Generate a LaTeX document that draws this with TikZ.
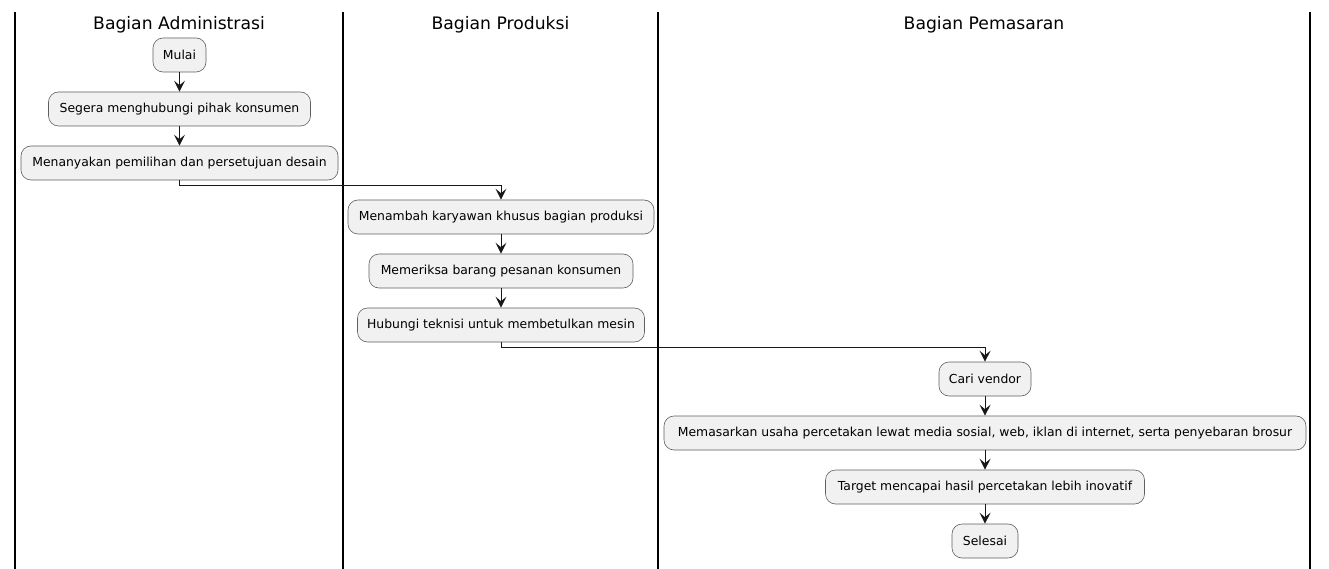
\documentclass[tikz,border=0pt]{standalone}
\usepackage{fontspec}
\setmainfont{DejaVu Sans}
\usetikzlibrary{arrows.meta}
\definecolor{boxfill}{HTML}{F1F1F1}
\definecolor{boxdraw}{HTML}{5F5F5F}
\definecolor{lineclr}{HTML}{181818}
\tikzset{
  act/.style={draw=boxdraw, fill=boxfill, line width=0.6pt, rounded corners=10pt,
    minimum height=34pt, inner sep=0pt, font=\fontsize{12.4pt}{14pt}\selectfont},
  lane/.style={line width=1.6pt, black},
  title/.style={font=\fontsize{17.2pt}{19pt}\selectfont, inner sep=0pt},
  flow/.style={line width=1pt, lineclr, -{Stealth[length=11pt,width=11pt,inset=4.5pt]}}
}
\begin{document}
\begin{tikzpicture}[x=1pt,y=-1pt]
\useasboundingbox (0,0) rectangle (1329,569);
% lanes
\coordinate (l0t) at (15,12); \coordinate (l0b) at (15,569);
\coordinate (l1t) at (343,12); \coordinate (l1b) at (343,569);
\coordinate (l2t) at (658,12); \coordinate (l2b) at (658,569);
\coordinate (l3t) at (1310,12); \coordinate (l3b) at (1310,569);
\draw[lane] (l0t) -- (l0b);
\draw[lane] (l1t) -- (l1b);
\draw[lane] (l2t) -- (l2b);
\draw[lane] (l3t) -- (l3b);
\node[title] (t1) at (179,25) {Bagian Administrasi};
\node[title] (t2) at (500.5,25) {Bagian Produksi};
\node[title] (t3) at (984,25) {Bagian Pemasaran};
% activities
\node[act, minimum width=53pt] (a1) at (179.5,55) {Mulai};
\node[act, minimum width=262pt] (a2) at (179.5,109) {Segera menghubungi pihak konsumen};
\node[act, minimum width=317pt] (a3) at (179.5,163) {Menanyakan pemilihan dan persetujuan desain};
\node[act, minimum width=306pt] (b1) at (501,217) {Menambah karyawan khusus bagian produksi};
\node[act, minimum width=264pt] (b2) at (501,271) {Memeriksa barang pesanan konsumen};
\node[act, minimum width=287pt] (b3) at (501,325) {Hubungi teknisi untuk membetulkan mesin};
\node[act, minimum width=92pt] (c1) at (985,379) {Cari vendor};
\node[act, minimum width=642pt] (c2) at (985,433) {Memasarkan usaha percetakan lewat media sosial, web, iklan di internet, serta penyebaran brosur};
\node[act, minimum width=319pt] (c3) at (985,487) {Target mencapai hasil percetakan lebih inovatif};
\node[act, minimum width=66pt] (c4) at (985,541) {Selesai};
% flows
\draw[flow] (a1.south) -- (a2.north);
\draw[flow] (a2.south) -- (a3.north);
\draw[flow] (a3.south) -- ++(0,5) -| (b1.north);
\draw[flow] (b1.south) -- (b2.north);
\draw[flow] (b2.south) -- (b3.north);
\draw[flow] (b3.south) -- ++(0,5) -| (c1.north);
\draw[flow] (c1.south) -- (c2.north);
\draw[flow] (c2.south) -- (c3.north);
\draw[flow] (c3.south) -- (c4.north);
\end{tikzpicture}
\end{document}
